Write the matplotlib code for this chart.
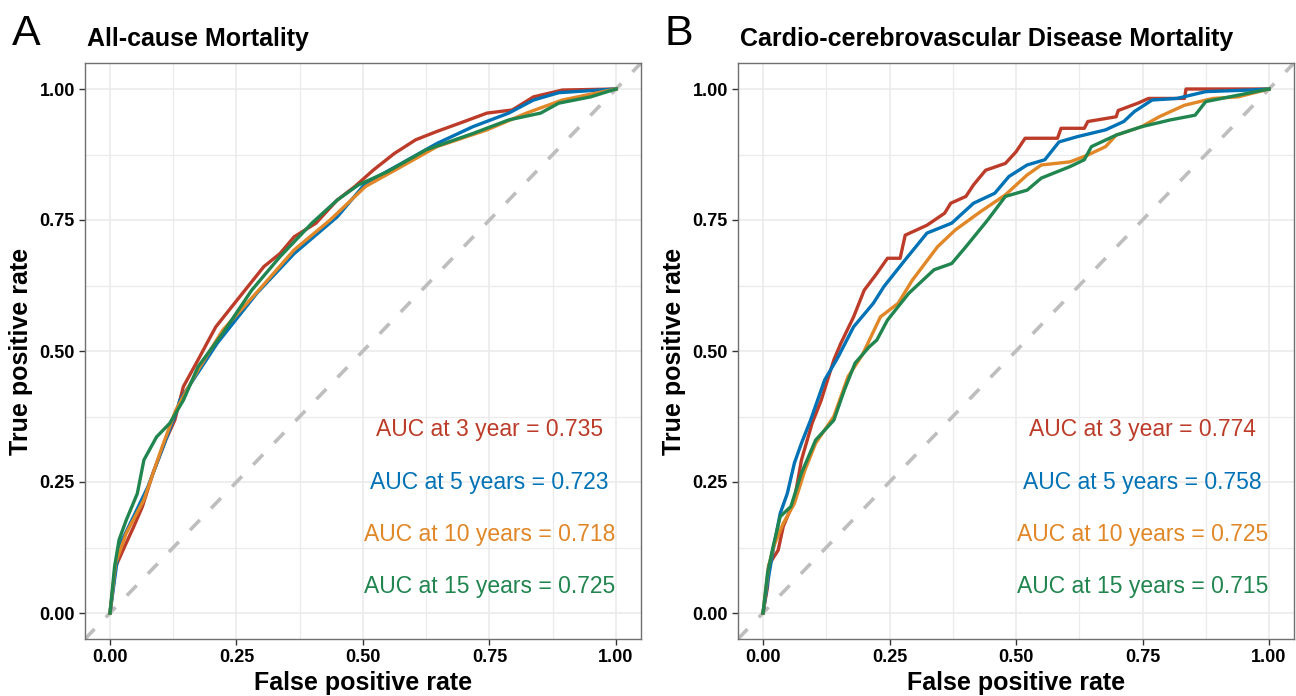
import matplotlib
matplotlib.use("Agg")
import matplotlib.pyplot as plt
from matplotlib.ticker import MultipleLocator

plt.rcParams['font.family'] = ['Liberation Sans', 'DejaVu Sans']

# ---- data (FPR, TPR) ----
# panel A: all-cause mortality
a_fpr_3 = [0, 0.011, 0.029, 0.047, 0.064, 0.085, 0.110, 0.128, 0.145, 0.174, 0.195, 0.209, 0.251,
           0.304, 0.336, 0.364, 0.407, 0.449, 0.484, 0.520, 0.562, 0.604, 0.646, 0.689, 0.745,
           0.795, 0.837, 0.894, 1.0]
a_tpr_3 = [0, 0.088, 0.127, 0.165, 0.203, 0.267, 0.330, 0.368, 0.432, 0.483, 0.521, 0.546, 0.597,
           0.661, 0.686, 0.718, 0.744, 0.788, 0.814, 0.845, 0.877, 0.903, 0.919, 0.934, 0.954,
           0.960, 0.985, 0.998, 1.0]
a_fpr_5 = [0, 0.018, 0.075, 0.130, 0.138, 0.212, 0.290, 0.364, 0.449, 0.505, 0.576, 0.646, 0.717,
           0.788, 0.837, 0.887, 1.0]
a_tpr_5 = [0, 0.127, 0.241, 0.381, 0.406, 0.515, 0.610, 0.686, 0.756, 0.820, 0.858, 0.896, 0.928,
           0.954, 0.979, 0.993, 1.0]
a_fpr_10 = [0, 0.011, 0.032, 0.067, 0.103, 0.130, 0.174, 0.223, 0.294, 0.364, 0.435, 0.505, 0.576,
            0.646, 0.745, 0.823, 0.894, 1.0]
a_tpr_10 = [0, 0.095, 0.152, 0.216, 0.317, 0.387, 0.464, 0.540, 0.616, 0.693, 0.750, 0.814, 0.852,
            0.890, 0.922, 0.954, 0.979, 1.0]
a_fpr_15 = [0, 0.009, 0.018, 0.032, 0.054, 0.067, 0.092, 0.118, 0.145, 0.174, 0.223, 0.280, 0.336,
            0.399, 0.449, 0.491, 0.548, 0.625, 0.717, 0.788, 0.851, 0.887, 0.950, 1.0]
a_tpr_15 = [0, 0.088, 0.140, 0.177, 0.228, 0.292, 0.336, 0.362, 0.406, 0.470, 0.534, 0.616, 0.680,
            0.744, 0.788, 0.817, 0.842, 0.884, 0.915, 0.941, 0.954, 0.973, 0.985, 1.0]

# panel B: cardio-cerebrovascular disease mortality
b_fpr_3 = [0, 0.009, 0.011, 0.030, 0.040, 0.062, 0.076, 0.097, 0.115, 0.140, 0.154, 0.179, 0.200,
           0.225, 0.246, 0.271, 0.281, 0.324, 0.359, 0.371, 0.401, 0.416, 0.440, 0.479, 0.500,
           0.518, 0.582, 0.589, 0.635, 0.642, 0.698, 0.702, 0.741, 0.762, 0.833, 0.836, 1.0]
b_tpr_3 = [0, 0.050, 0.091, 0.120, 0.165, 0.216, 0.292, 0.362, 0.406, 0.483, 0.515, 0.565, 0.616,
           0.648, 0.677, 0.677, 0.721, 0.740, 0.763, 0.782, 0.795, 0.817, 0.845, 0.858, 0.880,
           0.906, 0.906, 0.925, 0.925, 0.938, 0.947, 0.959, 0.973, 0.982, 0.982, 1.0, 1.0]
b_fpr_5 = [0, 0.009, 0.020, 0.034, 0.048, 0.062, 0.076, 0.094, 0.122, 0.147, 0.179, 0.218, 0.239,
           0.281, 0.324, 0.373, 0.416, 0.458, 0.486, 0.522, 0.557, 0.585, 0.621, 0.677, 0.713,
           0.734, 0.769, 0.818, 0.875, 0.960, 1.0]
b_tpr_5 = [0, 0.057, 0.120, 0.190, 0.228, 0.286, 0.324, 0.368, 0.445, 0.486, 0.546, 0.591, 0.623,
           0.674, 0.725, 0.744, 0.782, 0.801, 0.833, 0.855, 0.865, 0.899, 0.909, 0.922, 0.938,
           0.957, 0.979, 0.982, 0.995, 0.998, 1.0]
b_fpr_10 = [0, 0.011, 0.021, 0.040, 0.062, 0.083, 0.104, 0.140, 0.168, 0.196, 0.232, 0.267, 0.295,
            0.345, 0.380, 0.430, 0.479, 0.522, 0.550, 0.607, 0.642, 0.677, 0.698, 0.748, 0.783,
            0.833, 0.889, 0.939, 1.0]
b_tpr_10 = [0, 0.088, 0.127, 0.171, 0.209, 0.273, 0.324, 0.375, 0.451, 0.492, 0.565, 0.591, 0.635,
            0.699, 0.731, 0.766, 0.798, 0.836, 0.855, 0.861, 0.874, 0.890, 0.912, 0.928, 0.947,
            0.969, 0.982, 0.985, 1.0]
b_fpr_15 = [0, 0.009, 0.020, 0.034, 0.055, 0.076, 0.104, 0.140, 0.161, 0.182, 0.210, 0.225, 0.246,
            0.288, 0.338, 0.373, 0.401, 0.444, 0.479, 0.522, 0.550, 0.607, 0.635, 0.649, 0.698,
            0.748, 0.805, 0.854, 0.875, 0.943, 1.0]
b_tpr_15 = [0, 0.076, 0.127, 0.184, 0.203, 0.267, 0.330, 0.368, 0.426, 0.477, 0.508, 0.521, 0.559,
            0.610, 0.655, 0.667, 0.699, 0.750, 0.795, 0.807, 0.830, 0.852, 0.865, 0.890, 0.912,
            0.928, 0.941, 0.950, 0.976, 0.989, 1.0]

auc_a = [0.735, 0.723, 0.718, 0.725]
auc_b = [0.774, 0.758, 0.725, 0.715]
auc_labels = ['AUC at 3 year', 'AUC at 5 years', 'AUC at 10 years', 'AUC at 15 years']
colors = ['#BC3C29', '#0072B5', '#E18727', '#20854E']
ticks = [0, 0.25, 0.5, 0.75, 1.0]

W, H = 1296, 696
fig = plt.figure(figsize=(W / 100, H / 100), dpi=100)


def draw_panel(left_px, curves, aucs, letter, title):
    ax = fig.add_axes([left_px / W, 56.8 / H, 556.6 / W, 576.4 / H])
    # reference diagonal
    ax.plot([-0.05, 1.05], [-0.05, 1.05], color='#BEBEBE', lw=2.6, dashes=(3.9, 4.5),
            dash_capstyle='butt', zorder=1)
    for (fx, ty), c in zip(curves, colors):
        ax.plot(fx, ty, color=c, lw=2.4, zorder=2)
    for i, (lab, v, c) in enumerate(zip(auc_labels, aucs, colors)):
        ax.text(0.75, 0.35 - 0.1 * i, f'{lab} = {v:.3f}', color=c, fontsize=16.5,
                ha='center', va='center')
    ax.set_xlim(-0.05, 1.05)
    ax.set_ylim(-0.05, 1.05)
    ax.set_xticks(ticks)
    ax.set_yticks(ticks)
    ax.set_xticklabels([f'{t:.2f}' for t in ticks])
    ax.set_yticklabels([f'{t:.2f}' for t in ticks])
    ax.xaxis.set_minor_locator(MultipleLocator(0.125))
    ax.yaxis.set_minor_locator(MultipleLocator(0.125))
    ax.grid(which='major', color='#EBEBEB', lw=1.2, zorder=0)
    ax.grid(which='minor', color='#EBEBEB', lw=0.9, zorder=0)
    ax.set_axisbelow(True)
    ax.tick_params(which='minor', length=0)
    ax.tick_params(which='major', length=4, width=1, color='#333333', pad=3,
                   labelsize=13)
    for lbl in ax.get_xticklabels() + ax.get_yticklabels():
        lbl.set_fontweight('bold')
    for s in ax.spines.values():
        s.set_color('#707070')
        s.set_linewidth(1.0)
    ax.set_xlabel('False positive rate', fontsize=18, fontweight='bold')
    ax.set_ylabel('True positive rate', fontsize=18, fontweight='bold')
    ax.xaxis.set_label_coords(0.5, -0.055)
    ax.yaxis.set_label_coords(-0.093, 0.5)
    fig.text((left_px - 73) / W, 1 - 45 / H, letter, fontsize=31, va='baseline')
    fig.text((left_px + 2) / W, 1 - 46 / H, title, fontsize=18, fontweight='bold',
             va='baseline')
    return ax


draw_panel(84.7, [(a_fpr_3, a_tpr_3), (a_fpr_5, a_tpr_5), (a_fpr_10, a_tpr_10), (a_fpr_15, a_tpr_15)],
           auc_a, 'A', 'All-cause Mortality')
draw_panel(737.7, [(b_fpr_3, b_tpr_3), (b_fpr_5, b_tpr_5), (b_fpr_10, b_tpr_10), (b_fpr_15, b_tpr_15)],
           auc_b, 'B', 'Cardio-cerebrovascular Disease Mortality')

fig.savefig('out.png', dpi=100)
